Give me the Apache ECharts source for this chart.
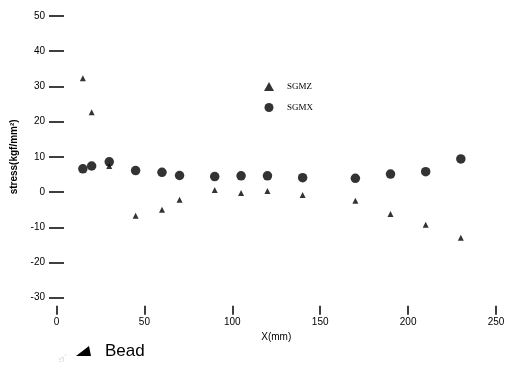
<!DOCTYPE html>
<html>
<head>
<meta charset="utf-8">
<script src="https://cdn.jsdelivr.net/npm/echarts@6/dist/echarts.min.js"></script>
<style>html,body{margin:0;padding:0;background:#fff}#c{width:511px;height:365px}</style>
</head>
<body>
<div id="c"></div>
<script>
var xPositions = [15, 20, 30, 45, 60, 70, 90, 105, 120, 140, 170, 190, 210, 230];
var sgmz = [32.3, 22.7, 7.4, -6.7, -5.0, -2.2, 0.6, -0.3, 0.3, -0.8, -2.5, -6.2, -9.3, -13.0];
var sgmx = [6.6, 7.4, 8.6, 6.1, 5.6, 4.7, 4.4, 4.6, 4.6, 4.1, 3.9, 5.1, 5.8, 9.4];
var yTicks = [-30, -20, -10, 0, 10, 20, 30, 40, 50];
var xTicks = [0, 50, 100, 150, 200, 250];

function pairs(xs, ys) { return xs.map(function (x, i) { return [x, ys[i]]; }); }

var chart = echarts.init(document.getElementById('c'), null, {renderer: 'canvas'});
chart.setOption({
  animation: false,
  backgroundColor: '#fff',
  textStyle: {fontFamily: 'Liberation Sans, Arial, sans-serif'},
  grid: {left: 56.5, right: 15, top: 16, bottom: 67.3, containLabel: false},
  legend: {
    orient: 'vertical', left: 259, top: 77, itemWidth: 10, itemHeight: 9, itemGap: 12,
    data: [{name: 'SGMZ', icon: 'triangle'}, {name: 'SGMX', icon: 'circle'}],
    textStyle: {fontFamily: 'Liberation Serif, serif', fontSize: 9, color: '#000', padding: [0, 0, 0, 8]}
  },
  xAxis: {
    type: 'value', min: xTicks[0], max: xTicks[xTicks.length - 1], interval: 50,
    position: 'bottom', offset: 8,
    name: 'X(mm)', nameLocation: 'middle', nameGap: 27,
    nameTextStyle: {fontSize: 10, color: '#000'},
    axisLine: {show: false, onZero: false},
    axisTick: {show: true, length: 9, lineStyle: {color: '#000', width: 1.5}},
    axisLabel: {fontSize: 10, color: '#000', margin: 12},
    splitLine: {show: false}
  },
  yAxis: {
    type: 'value', min: yTicks[0], max: yTicks[yTicks.length - 1], interval: 10,
    position: 'left', offset: -7.5,
    name: 'stress(kgf/mm²)', nameLocation: 'middle', nameGap: 42,
    nameTextStyle: {fontSize: 10, fontWeight: 'bold', color: '#000'},
    axisLine: {show: false, onZero: false},
    axisTick: {show: true, length: 15, lineStyle: {color: '#000', width: 1.5}},
    axisLabel: {fontSize: 10, color: '#000', margin: 19},
    splitLine: {show: false}
  },
  series: [
    {name: 'SGMZ', type: 'scatter', symbol: 'triangle', symbolSize: 6,
     itemStyle: {color: '#000'}, data: pairs(xPositions, sgmz)},
    {name: 'SGMX', type: 'scatter', symbol: 'circle', symbolSize: 9.5,
     itemStyle: {color: '#000'}, data: pairs(xPositions, sgmx)}
  ],
  graphic: [
    {type: 'polygon', shape: {points: [[76, 356], [89, 346], [91, 356]]}, style: {fill: '#000'}},
    {type: 'text', left: 105, top: 343, style: {text: 'Bead', fontSize: 17, fill: '#000', fontFamily: 'Liberation Sans, Arial, sans-serif'}},
    {type: 'text', left: 57, top: 354, rotation: 0.3, style: {text: 'ﾐｸﾞ', fontSize: 7, fill: '#ccc'}}
  ]
});
</script>
</body>
</html>
